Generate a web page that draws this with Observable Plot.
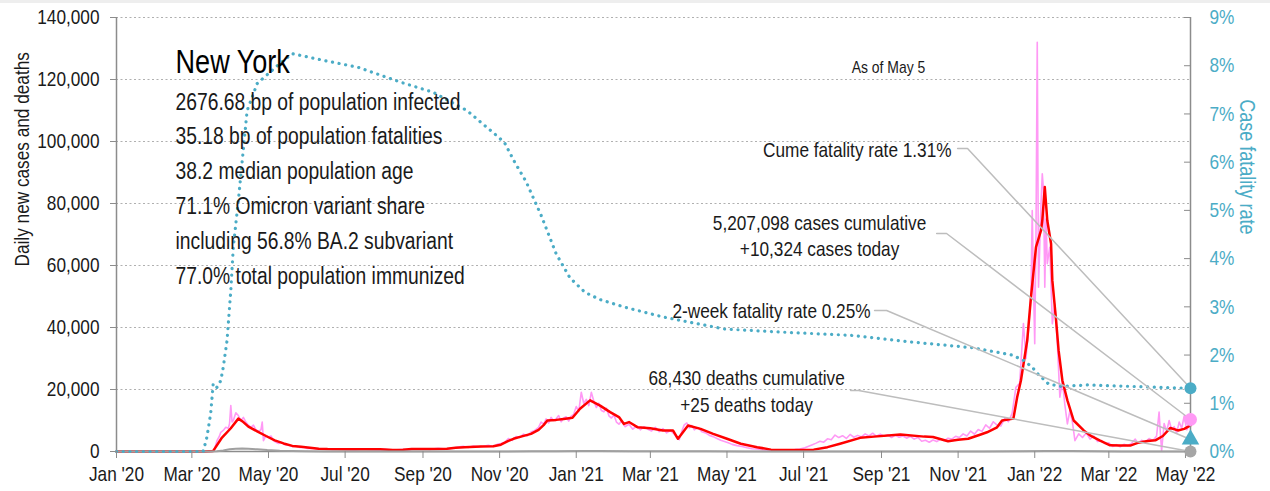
<!DOCTYPE html>
<html><head><meta charset="utf-8">
<script src="https://cdn.jsdelivr.net/npm/d3@7"></script>
<script src="https://cdn.jsdelivr.net/npm/@observablehq/plot@0.6"></script>
<style>
body{margin:0;background:#fff;}
#strip{height:3px;background:#eeeeee;}
</style></head><body><div id="strip"></div><div id="chart"></div>
<script>
const FONT = '"Liberation Sans", Arial, sans-serif';
const NARROW = 0.82; // horizontal compression to emulate a narrow face
const START = Date.UTC(2020, 0, 1);
const LAST_DAY = 855; // May 5, 2022 (days since Jan 1, 2020)

// 7-day average of daily new cases (thousands), by day offset from 2020-01-01
const avgDay = [0,70,77,84,91,97,101,105,112,119,126,133,140,147,154,161,168,182,196,210,220,228,235,249,263,270,277,290,300,306,312,316,322,330,336,340,343,350,356,363,369,377,385,393,400,404,408,415,425,435,443,447,455,465,475,486,497,510,521,540,555,566,576,592,603,624,643,650,662,670,678,688,693,701,705,714,717,720,725,728,732,736,737,739,741,744,745,748,750,753,757,762,770,775,783,791,799,807,813,821,827,833,839,845,850,855];
const avgCasesK = [0,0,0.2,4.5,7.5,10.6,9.5,8.0,6.5,5.0,3.6,2.6,1.8,1.5,1.2,0.9,0.8,0.75,0.7,0.7,0.5,0.55,0.8,0.8,0.9,1.2,1.4,1.6,1.7,2.2,3.4,4.1,4.8,5.7,7.0,8.5,10.0,10.2,10.5,10.9,13.8,16.5,14.8,12.7,11.1,8.9,9.5,7.8,7.5,6.8,6.8,4.1,8.4,7.3,5.7,4.1,2.5,1.4,0.6,0.5,0.6,1.4,2.5,4.4,4.8,5.5,4.8,4.7,3.3,3.8,4.1,5.5,6.2,7.8,10.0,10.6,17.5,22.9,35.8,49.8,65.9,71.3,74.5,85.3,74.5,67.0,55.2,42.3,32.6,22.9,16.5,10.0,6.8,5.2,3.5,2.0,1.9,1.9,2.8,3.4,3.6,5.0,7.6,6.8,7.3,8.4];

// Daily new cases (thousands)
const dailyDay = [0,70,76,78,80,82,83,85,87,89,90,91,92,93,95,97,99,101,103,105,107,109,111,113,115,116,117,119,121,123,125,127,129,131,134,137,140,143,146,149,152,156,160,166,172,178,184,190,196,202,208,214,220,226,232,238,244,250,256,262,268,272,276,280,284,288,292,296,300,303,306,309,312,315,318,321,324,327,330,333,336,338,340,342,344,346,348,350,352,354,356,358,360,362,364,366,368,370,372,374,376,378,380,382,384,386,388,390,392,394,396,398,400,402,405,408,411,414,417,420,423,426,429,432,435,438,441,444,446,448,450,452,454,456,458,460,463,466,469,472,475,478,481,484,487,490,494,498,502,506,510,516,522,528,534,540,544,548,551,554,557,560,563,566,569,572,575,578,581,584,587,590,593,596,599,602,605,608,611,614,617,620,623,626,629,632,635,638,641,644,647,650,653,656,659,662,665,668,671,674,677,680,683,686,689,692,695,698,701,704,707,710,713,716,719,722,724,726,728,729,730,731,732,733,734,736,737,738,739,740,741,743,745,747,749,751,753,755,757,759,761,763,766,769,772,775,778,781,784,787,790,793,796,799,802,805,808,811,813,816,819,822,825,828,830,831,832,834,836,838,840,842,844,846,848,850,852,854,855];
const dailyCasesK = [0,0,0,0.8,3.5,5.0,6.2,6.8,7.8,7.5,9.0,14.8,9.5,10.0,12.5,11.6,10.0,11.0,9.5,8.5,7.8,8.5,7.0,6.5,7.0,9.5,3.5,5.2,4.6,5.0,3.5,3.0,2.6,3.0,2.2,2.0,1.6,1.8,1.3,1.4,1.0,1.1,0.8,0.9,0.7,0.8,0.7,0.6,0.8,0.7,0.6,0.7,0.5,0.6,0.6,0.8,0.9,0.7,1.0,0.8,1.1,1.4,1.7,1.3,1.8,1.5,1.7,2.0,1.6,2.3,2.6,3.0,4.2,3.6,4.8,4.5,5.6,5.0,6.3,6.8,7.8,9.5,8.8,10.5,9.2,11.0,10.0,10.6,11.6,9.6,10.8,11.2,9.8,11.4,12.0,14.5,13.0,19.1,15.5,16.8,14.8,19.1,16.2,14.2,15.6,13.2,12.8,14.0,11.5,10.8,11.8,9.5,8.8,9.8,8.0,8.8,7.2,8.2,7.0,8.0,7.2,6.6,7.8,6.4,7.4,6.0,6.8,5.6,4.4,3.8,6.5,8.6,9.2,7.6,8.4,7.0,7.7,6.4,6.0,5.2,4.8,4.2,3.6,3.2,2.8,2.3,1.9,1.6,1.2,0.9,0.8,0.5,0.4,0.5,0.4,0.6,0.8,1.2,1.7,2.2,2.7,3.3,3.0,4.1,3.8,5.3,4.5,5.1,4.2,5.5,4.6,5.2,4.7,5.7,5.0,5.9,4.9,5.6,5.0,5.4,4.5,5.3,4.6,5.0,4.3,4.9,4.0,4.5,3.3,3.6,3.0,3.7,3.2,4.0,3.5,4.3,4.0,4.9,4.5,5.7,5.0,6.6,5.6,7.1,6.5,8.6,7.5,9.6,8.5,8.2,10.6,9.6,12.3,20.7,22.0,41.3,30.0,39.0,50.0,77.7,54.0,34.8,70.0,132.0,53.0,80.0,89.6,84.2,53.0,75.0,60.6,65.9,41.2,47.6,35.0,17.5,22.9,15.0,8.9,13.2,9.5,3.5,5.7,4.5,6.0,4.0,5.0,3.2,3.5,2.5,2.8,1.6,2.2,1.5,2.3,1.9,2.6,4.0,2.8,3.6,3.0,4.2,3.5,5.0,12.7,6.0,0.3,9.0,6.5,10.0,7.0,8.0,6.0,9.5,7.5,11.5,7.0,8.5,10.324];

// Daily new deaths
const deathDay = [0,75,80,85,90,95,100,105,112,120,130,140,150,165,200,280,310,330,350,370,385,410,440,470,500,540,570,600,650,690,720,740,750,760,780,800,830,855];
const dailyDeaths = [0,0,50,300,700,900,1000,850,700,450,250,150,80,40,15,15,30,60,100,170,160,120,90,60,30,10,10,30,35,40,60,150,180,150,80,30,15,25];

// Cumulative case fatality rate (%)
const cfrDay = [0,69,72,75,77,80,83,85,88,91,93,97,104,112,128,140,165,192,226,252,279,304,309,317,326,338,350,361,373,385,405,435,484,534,584,633,682,713,722,729,733,742,752,773,855];
const cfrPct = [0,0,0.30,0.79,1.41,1.33,1.47,1.75,2.30,3.34,4.24,5.2,7.07,7.63,8.0,8.25,8.11,7.97,7.66,7.45,7.07,6.52,6.4,6.0,5.6,4.9,4.1,3.6,3.3,3.15,2.99,2.79,2.54,2.47,2.41,2.27,2.15,2.0,1.89,1.75,1.62,1.40,1.35,1.38,1.31];

// Latest values
const casesToday = 10324;
const deathsToday = 25;
const cumeCFR = 1.31;
const twoWeekCFR = 0.25;

// Ticks
const yTicks = [0,20000,40000,60000,80000,100000,120000,140000];
const pctTicks = [0,1,2,3,4,5,6,7,8,9];
const monthTicks = ["2020-01-01","2020-03-01","2020-05-01","2020-07-01","2020-09-01","2020-11-01","2021-01-01","2021-03-01","2021-05-01","2021-07-01","2021-09-01","2021-11-01","2022-01-01","2022-03-01","2022-05-01"];

// Text
const title = "New York";
const infoLines = ["2676.68 bp of population infected","35.18 bp of population fatalities","38.2 median population age","71.1% Omicron variant share","including 56.8% BA.2 subvariant","77.0% total population immunized"];

const Y_MAX = 140000;
const day = d => new Date(START + d * 864e5);
const pctToY = p => p / 9 * Y_MAX;
const reportDate = day(LAST_DAY);

const avg = avgDay.map((d, i) => ({date: day(d), v: avgCasesK[i] * 1000}));
const daily = dailyDay.map((d, i) => ({date: day(d), v: dailyCasesK[i] * 1000}));
const deaths = deathDay.map((d, i) => ({date: day(d), v: dailyDeaths[i]}));
const cfr = cfrDay.map((d, i) => ({date: day(d), v: pctToY(cfrPct[i])}));

const TEAL = "#4bacc6", PINK = "#ff99f5", AXIS = "#8c8c8c", LEAD = "#bdbdbd", INK = "#1a1a1a";

// annotation anchors (date offset, value of first line), line spacing in px
const notes = [
  {d: 614.6, v: 123870, lines: ["As of May 5"], anchor: "middle", size: 17, step: 0},
  {d: 664.8, v: 97100, lines: ["Cume fatality rate 1.31%"], anchor: "end", size: 21, step: 0},
  {d: 559.7, v: 73550, lines: ["5,207,098 cases cumulative", "+10,324 cases today"], anchor: "middle", size: 21, step: 26},
  {d: 600.3, v: 45160, lines: ["2-week fatality rate 0.25%"], anchor: "end", size: 21, step: 0},
  {d: 501.6, v: 23550, lines: ["68,430 deaths cumulative", "+25 deaths today"], anchor: "middle", size: 21, step: 27},
  {d: 47, v: 112740, lines: infoLines, anchor: "start", size: 23.5, step: 34.9}
];
const leaders = [
  [{d: 669.6, v: 97742}, {d: 677.5, v: 97742}, {d: LAST_DAY, v: pctToY(cumeCFR)}],
  [{d: 652.9, v: 70322}, {d: 660.8, v: 70322}, {d: LAST_DAY, v: casesToday}],
  [{d: 603.5, v: 45484}, {d: 613.1, v: 45484}, {d: LAST_DAY, v: pctToY(twoWeekCFR)}],
  [{d: 584.4, v: 19677}, {d: 590.8, v: 19677}, {d: LAST_DAY, v: deathsToday}]
].flatMap((pts, k) => pts.map(p => ({k, date: day(p.d), v: p.v})));

const noteMarks = notes.flatMap(n => n.lines.map((line, i) =>
  Plot.text([line], {x: () => day(n.d), y: () => n.v, dy: i * n.step, textAnchor: n.anchor, fontSize: n.size, fill: INK})));

const chart = Plot.plot({
  width: 1270, height: 488,
  marginLeft: 116, marginRight: 80, marginTop: 14, marginBottom: 40,
  style: {fontFamily: FONT, fontSize: "21px", color: INK, background: "#fff", overflow: "visible"},
  x: {type: "utc", domain: [day(0), reportDate]},
  y: {domain: [0, Y_MAX]},
  marks: [
    Plot.ruleY(yTicks.slice(1), {stroke: "#b0b0b0", strokeWidth: 1.2, strokeDasharray: "2,2.5"}),
    Plot.line(daily, {x: "date", y: "v", stroke: PINK, strokeWidth: 1.6}),
    Plot.line(avg, {x: "date", y: "v", stroke: "#ff0000", strokeWidth: 2.5}),
    Plot.ruleX([day(0), reportDate], {stroke: AXIS, strokeWidth: 1.5}),
    Plot.ruleY([0], {stroke: AXIS, strokeWidth: 1.5}),
    Plot.line(deaths, {x: "date", y: "v", stroke: "#a0a0a0", strokeWidth: 2}),
    Plot.line(cfr, {x: "date", y: "v", stroke: TEAL, strokeWidth: 3.2, strokeDasharray: "0.1,6.6", strokeLinecap: "round"}),
    Plot.line(leaders, {x: "date", y: "v", z: "k", stroke: LEAD, strokeWidth: 1.5}),
    Plot.axisY({ticks: yTicks, tickFormat: d3.format(","), tickSize: 6, tickPadding: 11, stroke: AXIS, fill: INK, label: null}),
    Plot.axisY({anchor: "right", ticks: pctTicks.map(pctToY), tickFormat: d => Math.round(d / Y_MAX * 9) + "%", tickSize: -7, tickPadding: 26, stroke: AXIS, fill: TEAL, label: null}),
    Plot.axisX({ticks: monthTicks.map(s => new Date(s)), tickFormat: d3.utcFormat("%b '%y"), tickSize: 7, tickPadding: 8, stroke: AXIS, fill: INK, label: null}),
    Plot.text(["Daily new cases and deaths"], {frameAnchor: "left", rotate: -90, dx: -94, dy: 32, fill: INK, fontSize: 21}),
    Plot.text(["Case fatality rate"], {frameAnchor: "right", rotate: 90, dx: 57, fill: TEAL, fontSize: 22}),
    Plot.dot([cumeCFR], {x: () => reportDate, y: d => pctToY(d), r: 6, fill: TEAL}),
    Plot.dot([casesToday], {x: () => reportDate, y: d => d, r: 6.5, fill: PINK}),
    Plot.dot([twoWeekCFR], {x: () => reportDate, y: d => pctToY(d), r: 6.5, symbol: "triangle", fill: TEAL}),
    Plot.dot([deathsToday], {x: () => reportDate, y: d => d, r: 6, fill: "#a6a6a6"}),
    Plot.text([title], {x: () => day(47), y: () => 125650, textAnchor: "start", fontSize: 33, fill: "#000"}),
    ...noteMarks
  ]
});
document.getElementById("chart").appendChild(chart);
// emulate a narrow typeface
chart.querySelectorAll("text").forEach(t => {
  if (t.querySelector("tspan")) return;
  const w = t.getComputedTextLength();
  if (w > 0) {
    t.setAttribute("textLength", (w * NARROW).toFixed(2));
    t.setAttribute("lengthAdjust", "spacingAndGlyphs");
  }
});
</script>
</body></html>
